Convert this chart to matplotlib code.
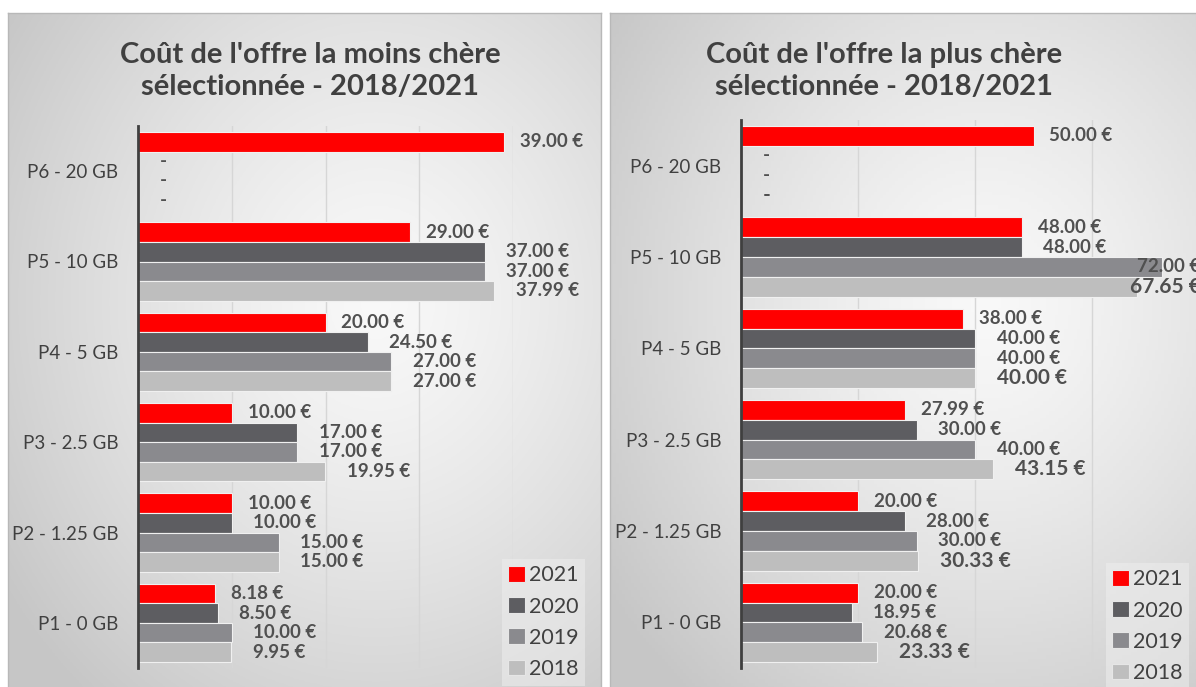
import numpy as np
import matplotlib
matplotlib.use("Agg")
import matplotlib.pyplot as plt
from matplotlib.patches import Patch

plt.rcParams["font.family"] = ["Lato", "DejaVu Sans"]

categories = ["P1 - 0 GB", "P2 - 1.25 GB", "P3 - 2.5 GB", "P4 - 5 GB", "P5 - 10 GB", "P6 - 20 GB"]
years = ["2021", "2020", "2019", "2018"]

cheap_2021 = [8.18, 10.00, 10.00, 20.00, 29.00, 39.00]
cheap_2020 = [8.50, 10.00, 17.00, 24.50, 37.00, 0]
cheap_2019 = [10.00, 15.00, 17.00, 27.00, 37.00, 0]
cheap_2018 = [9.95, 15.00, 19.95, 27.00, 37.99, 0]

dear_2021 = [20.00, 20.00, 27.99, 38.00, 48.00, 50.00]
dear_2020 = [18.95, 28.00, 30.00, 40.00, 48.00, 0]
dear_2019 = [20.68, 30.00, 40.00, 40.00, 72.00, 0]
dear_2018 = [23.33, 30.33, 43.15, 40.00, 67.65, 0]

title_cheap = "Coût de l'offre la moins chère\nsélectionnée - 2018/2021"
title_dear = "Coût de l'offre la plus chère\nsélectionnée - 2018/2021"

colors = ["#FF0000", "#5D5D61", "#8A8A8E", "#BEBEBE"]
TEXT = "#404040"
LABEL = "#505050"

W, H = 1196, 687
fig = plt.figure(figsize=(W / 100, H / 100), dpi=100)


def px(x0, y0, x1, y1):
    # pixel box (top-left origin) -> figure fraction rect
    return [x0 / W, 1 - y1 / H, (x1 - x0) / W, (y1 - y0) / H]


def background(rect, cx, cy):
    bg = fig.add_axes(rect, zorder=-5)
    ny, nx = 200, 200
    xx, yy = np.meshgrid(np.linspace(0, 1, nx), np.linspace(0, 1, ny))
    r = np.sqrt(((xx - cx) / 0.75) ** 2 + ((yy - cy) / 0.75) ** 2)
    t = np.clip(r, 0, 1) ** 1.3
    c0, c1 = 0.975, 0.78
    img = c0 + (c1 - c0) * t
    bg.imshow(np.dstack([img, img, img]), extent=(0, 1, 1, 0), aspect="auto")
    bg.set_xlim(0, 1)
    bg.set_ylim(1, 0)
    bg.set_xticks([])
    bg.set_yticks([])
    for s in bg.spines.values():
        s.set_color("#b8b8b8")
        s.set_linewidth(1)


def panel(rect, series, xmax, grid_step, fit_max, big_last, title, title_x, legend_xy):
    ax = fig.add_axes(rect)
    ax.set_facecolor("none")
    y = np.arange(len(categories))
    h = 0.217
    offsets = [1.5, 0.5, -0.5, -1.5]
    label_off = [11.5, 15.5, 15.5, 15.5]
    for k, vals in enumerate(series):
        pos = y + offsets[k] * h
        ax.barh(pos, vals, height=h, color=colors[k], edgecolor="#f0f0f0",
                linewidth=0.8, zorder=3)
        size = 13.5
        if big_last and k == 3:
            size = 15
        for v, p in zip(vals, pos):
            txt = "-" if v == 0 else f"{v:.2f} €"
            if fit_max is not None and v > fit_max:
                ax.annotate(txt, (xmax, p), xytext=(-6, 0), textcoords="offset points",
                            ha="right", va="center", fontsize=size, fontweight="bold",
                            color=LABEL, zorder=5, annotation_clip=False)
            else:
                ax.annotate(txt, (v, p), xytext=(label_off[k], 0), textcoords="offset points",
                            ha="left", va="center", fontsize=size, fontweight="bold",
                            color=LABEL, zorder=5, annotation_clip=False)
    ax.set_xlim(0, xmax)
    ax.set_ylim(-0.5, len(categories) - 0.5)
    ax.set_yticks(y)
    ax.set_yticklabels(categories, fontsize=13.5, color=TEXT)
    ax.tick_params(axis="y", length=0, pad=14)
    ax.set_xticks([])
    for g in np.arange(grid_step, xmax + 0.01, grid_step):
        ax.axvline(g, color="#d6d6d6", linewidth=1.0, zorder=1)
    for s in ["top", "right", "bottom"]:
        ax.spines[s].set_visible(False)
    ax.spines["left"].set_color("#3f3f3f")
    ax.spines["left"].set_linewidth(2.0)
    ax.spines["left"].set_zorder(4)

    fig.text(title_x / W, 1 - 71 / H, title, ha="center", va="center",
             fontsize=21, fontweight="bold", color=TEXT, linespacing=1.3)

    handles = [Patch(facecolor=c, edgecolor="#e6e6e6", linewidth=0.8) for c in colors]
    leg = ax.legend(handles, years, loc="upper left",
                    bbox_to_anchor=(legend_xy[0] / W, 1 - legend_xy[1] / H),
                    bbox_transform=fig.transFigure, fontsize=15.5,
                    handlelength=0.75, handleheight=0.75, handletextpad=0.2,
                    labelspacing=0.52, borderpad=0.3, borderaxespad=0,
                    frameon=True, fancybox=False, labelcolor=TEXT)
    leg.get_frame().set_facecolor("#eeeeee")
    leg.get_frame().set_alpha(0.55)
    leg.get_frame().set_edgecolor("none")
    leg.set_zorder(6)
    return ax


background(px(8, 13, 601, 700), 0.62, 0.42)
background(px(610, 13, 1215, 700), 0.62, 0.42)

panel(px(138, 126, 513, 668), [cheap_2021, cheap_2020, cheap_2019, cheap_2018],
      40, 10, None, False, title_cheap, 310, (502, 559))
panel(px(741, 120, 1209, 668), [dear_2021, dear_2020, dear_2019, dear_2018],
      80, 20, 62, True, title_dear, 884, (1106, 563))

fig.savefig("out.png", dpi=100)
